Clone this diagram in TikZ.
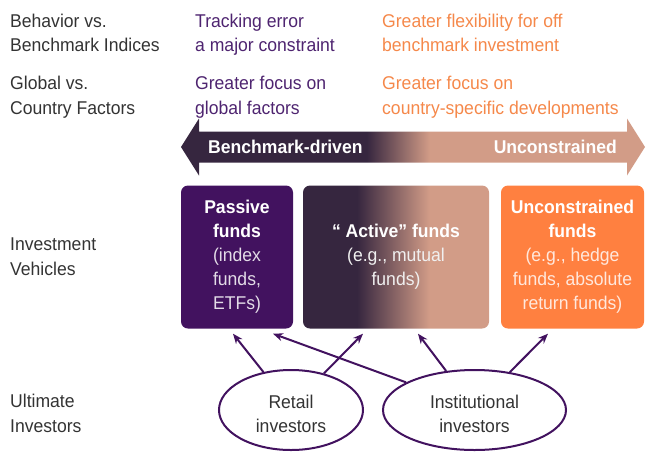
\documentclass[tikz,border=0pt]{standalone}
\usepackage{fontspec}
\setmainfont[FakeStretch=0.95]{Liberation Sans}
\usetikzlibrary{arrows.meta,shapes.geometric}
\definecolor{passivepurple}{HTML}{42125F}
\definecolor{darkplum}{HTML}{36263F}
\definecolor{salmon}{HTML}{D29C87}
\definecolor{uncorange}{HTML}{FF8040}
\definecolor{textgray}{HTML}{333333}
\definecolor{notepurple}{HTML}{4E2470}
\definecolor{noteorange}{HTML}{F5884A}
\pgfdeclarehorizontalshading{bandshade}{100bp}{color(0bp)=(darkplum); color(45bp)=(darkplum); color(51.8bp)=(salmon); color(100bp)=(salmon)}
\pgfdeclarehorizontalshading{activeshade}{100bp}{color(0bp)=(darkplum); color(39.5bp)=(darkplum); color(59bp)=(salmon); color(100bp)=(salmon)}
\begin{document}
\begin{tikzpicture}[x=1pt,y=-1pt,
	label/.style={anchor=base west,align=left,inner sep=0pt,text=textgray,font=\fontsize{18.5}{24.5}\selectfont},
	purplenote/.style={label,text=notepurple},
	orangenote/.style={label,text=noteorange},
	bandtext/.style={inner sep=0pt,text=white,font=\fontsize{18.5}{24}\selectfont\bfseries},
	fundbox/.style={rounded corners=7pt,minimum height=143pt,inner sep=0pt,align=center,text=white,font=\fontsize{18.5}{24}\selectfont},
	investor/.style={ellipse,draw=passivepurple,line width=2pt,minimum height=80pt,inner sep=0pt,align=center,text=textgray,font=\fontsize{18.5}{24}\selectfont},
	invarrow/.style={draw=passivepurple,line width=2pt,-{Stealth[length=10pt,width=8pt]}}]
	\useasboundingbox (0,0) rectangle (651,451);
	% row labels (anchored at the last line)
	\node[label] (behavior) at (10,51.7) {Behavior vs.\\Benchmark Indices};
	\node[label] (global) at (10,114) {Global vs.\\Country Factors};
	\node[label] (vehicles) at (10,275) {Investment\\Vehicles};
	\node[label] (ultimate) at (10,432) {Ultimate\\Investors};
	\node[purplenote] (tracking) at (195,51.7) {Tracking error\\a major constraint};
	\node[purplenote] (globalfocus) at (195,114) {Greater focus on\\global factors};
	\node[orangenote] (flexibility) at (382,51.7) {Greater flexibility for off\\benchmark investment};
	\node[orangenote] (countryfocus) at (382,114) {Greater focus on\\country-specific developments};
	% double arrow band
	\shade[shading=bandshade] (181,147) -- (199,118.5) -- (199,131.5) -- (627,131.5) -- (627,118.5) -- (645,147)
		-- (627,175.5) -- (627,162.5) -- (199,162.5) -- (199,175.5) -- cycle;
	\node[bandtext,anchor=base west] (driven) at (208,153.5) {Benchmark-driven};
	\node[bandtext,anchor=base east] (free) at (617,153.5) {Unconstrained};
	% fund boxes
	\node[fundbox,fill=passivepurple,minimum width=112pt] (passive) at (237,257)
		{\textbf{Passive}\\\textbf{funds}\\{\color{white!85!passivepurple}(index}\\{\color{white!85!passivepurple}funds,}\\{\color{white!85!passivepurple}ETFs)}};
	\node[fundbox,shading=activeshade,minimum width=186pt] (active) at (396,257)
		{\textbf{“ Active” funds}\\{\color{white!88!gray}(e.g., mutual}\\{\color{white!88!gray}funds)}};
	\node[fundbox,fill=uncorange,minimum width=143pt] (unconstrained) at (572.5,257)
		{\textbf{Unconstrained}\\\textbf{funds}\\{\color{white!82!uncorange}(e.g., hedge}\\{\color{white!82!uncorange}funds, absolute}\\{\color{white!82!uncorange}return funds)}};
	% investors
	\node[investor,minimum width=144pt] (retail) at (291,410) {\rule{0pt}{21.5pt}Retail\\investors};
	\node[investor,minimum width=183pt] (institutional) at (474.5,410) {\rule{0pt}{21.5pt}Institutional\\investors};
	\draw[invarrow] (retail.126) -- ([xshift=-4pt,yshift=-5pt]passive.south);
	\draw[invarrow] (retail.48) -- ([xshift=-33pt,yshift=-5pt]active.south);
	\draw[invarrow] (institutional.158) -- ([xshift=36pt,yshift=-5pt]passive.south);
	\draw[invarrow] (institutional.126) -- ([xshift=22pt,yshift=-5pt]active.south);
	\draw[invarrow] (institutional.47) -- ([xshift=-24.5pt,yshift=-5pt]unconstrained.south);
\end{tikzpicture}
\end{document}
